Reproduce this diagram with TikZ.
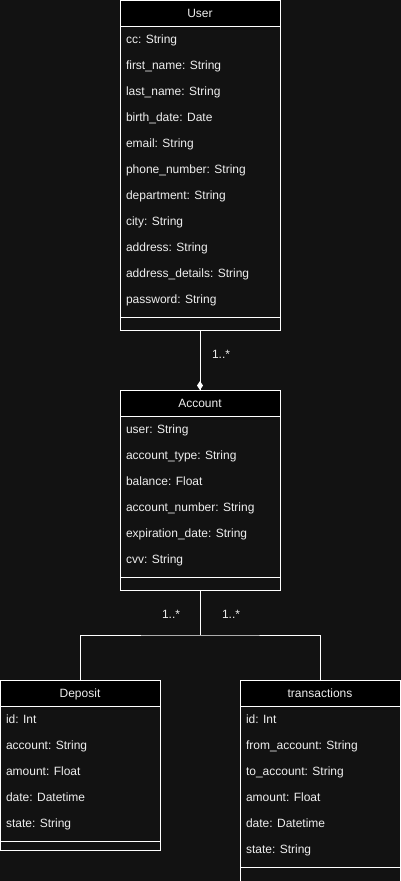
\documentclass[tikz,border=0pt]{standalone}
\usepackage{fontspec}
\setmainfont{Liberation Sans}
\definecolor{bgc}{HTML}{121212}
\definecolor{txt}{HTML}{EEEEEE}
\begin{document}
\begin{tikzpicture}[x=1pt,y=-1pt,
  every node/.style={inner sep=0pt,outer sep=0pt,font=\fontsize{12}{14}\selectfont,text=txt},
  umlbox/.style={draw=white,line width=1pt,minimum width=160pt,anchor=north west},
  umlhead/.style={draw=white,line width=1pt,fill=black,minimum width=160pt,minimum height=26pt,anchor=north west},
  attr/.style={anchor=base west},
  title/.style={anchor=base},
  conn/.style={draw=white,line width=1pt},
  mult/.style={anchor=base west}]
\clip (0,0) rectangle (401,881);
\fill[bgc] (0,0) rectangle (401,881);

% User
\node[umlbox,minimum height=330pt] (user) at (120,0) {};
\node[umlhead] (userh) at (120,0) {};
\node[title] (usert) at (200,17.5) {User};
\draw[conn] (120,317) -- (280,317);
\foreach \t [count=\i from 0] in {cc: String,first\_name: String,last\_name: String,birth\_date: Date,email: String,phone\_number: String,department: String,city: String,address: String,address\_details: String,password: String}
  \node[attr] (ua\i) at (126,43.5+26*\i) {\t};

% Account
\node[umlbox,minimum height=200pt] (account) at (120,390) {};
\node[umlhead] (accounth) at (120,390) {};
\node[title] (accountt) at (200,407.5) {Account};
\draw[conn] (120,577) -- (280,577);
\foreach \t [count=\i from 0] in {user: String,account\_type: String,balance: Float,account\_number: String,expiration\_date: String,cvv: String}
  \node[attr] (aa\i) at (126,433.5+26*\i) {\t};

% Deposit
\node[umlbox,minimum height=170pt] (deposit) at (0,680) {};
\node[umlhead] (deposith) at (0,680) {};
\node[title] (depositt) at (80,697.5) {Deposit};
\draw[conn] (0,841) -- (160,841);
\foreach \t [count=\i from 0] in {id: Int,account: String,amount: Float,date: Datetime,state: String}
  \node[attr] (da\i) at (6,723.5+26*\i) {\t};

% transactions
\node[umlbox,minimum height=230pt] (trans) at (240,680) {};
\node[umlhead] (transh) at (240,680) {};
\node[title] (transt) at (320,697.5) {transactions};
\draw[conn] (240,867) -- (400,867);
\foreach \t [count=\i from 0] in {id: Int,from\_account: String,to\_account: String,amount: Float,date: Datetime,state: String}
  \node[attr] (ta\i) at (246,723.5+26*\i) {\t};

% connectors
\draw[conn] (user.south) -- (account.north);
\fill[white] (200,381) -- (203,385.5) -- (200,390) -- (197,385.5) -- cycle;
\node[mult] (m1) at (212,358.5) {1..*};

\coordinate (j) at (200,635);
\draw[conn] (account.south) -- (j);
\draw[conn] (deposit.north) |- (j) -| (trans.north);
\node[mult] (m2) at (162,618.5) {1..*};
\node[mult] (m3) at (222,618.5) {1..*};
\end{tikzpicture}
\end{document}
